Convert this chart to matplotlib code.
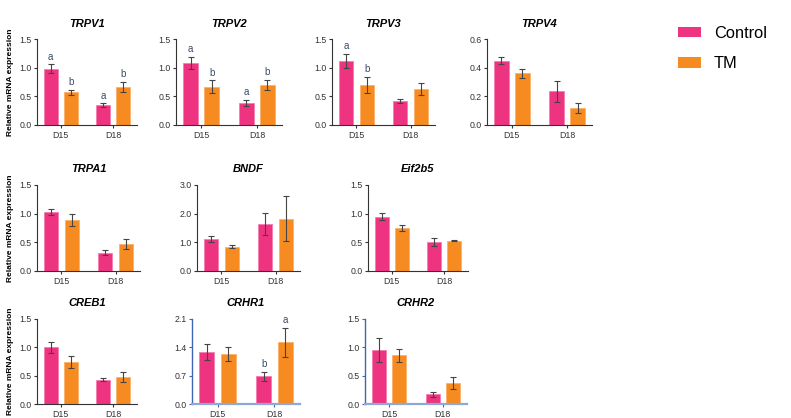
import numpy as np
import matplotlib
matplotlib.use("Agg")
import matplotlib.pyplot as plt
from matplotlib.patches import Patch

plt.rcParams['font.family'] = ['Liberation Sans', 'DejaVu Sans']

days = ["D15", "D18"]
groups = ["Control", "TM"]

genes = ["TRPV1", "TRPV2", "TRPV3", "TRPV4", "TRPA1", "BNDF", "Eif2b5",
         "CREB1", "CRHR1", "CRHR2"]

# mean values, [D15, D18]
control_mean = {
    "TRPV1": [0.98, 0.35], "TRPV2": [1.08, 0.39], "TRPV3": [1.12, 0.42],
    "TRPV4": [0.45, 0.235], "TRPA1": [1.03, 0.32], "BNDF": [1.12, 1.65],
    "Eif2b5": [0.95, 0.51], "CREB1": [1.0, 0.43], "CRHR1": [1.28, 0.69],
    "CRHR2": [0.95, 0.17],
}
control_err = {
    "TRPV1": [0.08, 0.03], "TRPV2": [0.11, 0.05], "TRPV3": [0.12, 0.04],
    "TRPV4": [0.025, 0.075], "TRPA1": [0.06, 0.04], "BNDF": [0.11, 0.39],
    "Eif2b5": [0.06, 0.07], "CREB1": [0.1, 0.03], "CRHR1": [0.2, 0.11],
    "CRHR2": [0.21, 0.04],
}
tm_mean = {
    "TRPV1": [0.57, 0.66], "TRPV2": [0.67, 0.70], "TRPV3": [0.70, 0.63],
    "TRPV4": [0.36, 0.12], "TRPA1": [0.89, 0.47], "BNDF": [0.85, 1.83],
    "Eif2b5": [0.75, 0.53], "CREB1": [0.74, 0.47], "CRHR1": [1.24, 1.53],
    "CRHR2": [0.86, 0.37],
}
tm_err = {
    "TRPV1": [0.04, 0.09], "TRPV2": [0.11, 0.09], "TRPV3": [0.14, 0.10],
    "TRPV4": [0.03, 0.035], "TRPA1": [0.11, 0.08], "BNDF": [0.04, 0.77],
    "Eif2b5": [0.06, 0.01], "CREB1": [0.11, 0.09], "CRHR1": [0.18, 0.36],
    "CRHR2": [0.11, 0.11],
}
# significance letters [ctrl D15, tm D15, ctrl D18, tm D18]
letters = {
    "TRPV1": ["a", "b", "a", "b"], "TRPV2": ["a", "b", "a", "b"],
    "TRPV3": ["a", "b", "", ""], "CRHR1": ["", "", "b", "a"],
}
yticks = {
    "TRPV1": [0, 0.5, 1.0, 1.5], "TRPV2": [0, 0.5, 1.0, 1.5],
    "TRPV3": [0, 0.5, 1.0, 1.5], "TRPV4": [0, 0.2, 0.4, 0.6],
    "TRPA1": [0, 0.5, 1.0, 1.5], "BNDF": [0, 1.0, 2.0, 3.0],
    "Eif2b5": [0, 0.5, 1.0, 1.5], "CREB1": [0, 0.5, 1.0, 1.5],
    "CRHR1": [0, 0.7, 1.4, 2.1], "CRHR2": [0, 0.5, 1.0, 1.5],
}

W, H = 791, 418
# panel pixel boxes: left, right, top, bottom
boxes = {
    "TRPV1": (37, 137, 39, 125), "TRPV2": (176, 282, 39, 125),
    "TRPV3": (332, 435, 39, 125), "TRPV4": (487, 592, 39, 125),
    "TRPA1": (37, 140, 185, 271), "BNDF": (197, 300, 185, 271),
    "Eif2b5": (368, 468, 185, 271),
    "CREB1": (37, 137, 319, 404), "CRHR1": (192, 300, 319, 404),
    "CRHR2": (365, 467, 319, 404),
}

pink = "#EE3480"
orange = "#F68B21"

fig = plt.figure(figsize=(W / 100, H / 100), dpi=100)

x = np.arange(len(days))
bw = 0.26
off = 0.19
for g in genes:
    l, r, t, b = boxes[g]
    ax = fig.add_axes([l / W, 1 - b / H, (r - l) / W, (b - t) / H])
    ekw = dict(ecolor="#444444", elinewidth=0.8, capsize=2.5, capthick=0.8)
    ax.bar(x - off, control_mean[g], bw, yerr=control_err[g], color=pink,
           edgecolor="#F57DAF", linewidth=0.6, error_kw=ekw)
    ax.bar(x + off, tm_mean[g], bw, yerr=tm_err[g], color=orange,
           edgecolor="#FBB26A", linewidth=0.6, error_kw=ekw)
    yt = yticks[g]
    ax.set_ylim(0, yt[-1])
    ax.set_xlim(-0.45, 1.45)
    ax.set_yticks(yt)
    ax.set_yticklabels(["%.1f" % v for v in yt])
    ax.set_xticks(x)
    ax.set_xticklabels(days)
    ax.tick_params(labelsize=6.3, length=2.5, width=0.8, colors="#333333", pad=1.5)
    for s in ["top", "right"]:
        ax.spines[s].set_visible(False)
    if g in ("CRHR1", "CRHR2"):
        ax.spines["left"].set_color("#3F66B0")
        ax.spines["bottom"].set_color("#8FA9D6")
        ax.spines["left"].set_linewidth(1.0)
        ax.spines["bottom"].set_linewidth(1.6)
        ax.tick_params(axis="y", color="#3F66B0")
        ax.tick_params(axis="x", color="#3F66B0")
    else:
        ax.spines["left"].set_color("#333333")
        ax.spines["bottom"].set_color("#333333")
    ax.set_title(g, fontsize=8, fontweight="bold", style="italic", pad=9)
    if g in letters:
        ymax = yt[-1]
        tops = [(0 - off, control_mean[g][0] + control_err[g][0]),
                (0 + off, tm_mean[g][0] + tm_err[g][0]),
                (1 - off, control_mean[g][1] + control_err[g][1]),
                (1 + off, tm_mean[g][1] + tm_err[g][1])]
        for (px, py), lt in zip(tops, letters[g]):
            if lt:
                ax.text(px, py + ymax * 0.03, lt, ha="center", va="bottom",
                        fontsize=7, color="#3A4A6A")
    if l < 50:
        ax.set_ylabel("Relative mRNA expression", fontsize=6, fontweight="bold",
                      labelpad=4)

handles = [Patch(facecolor=pink, label="Control"),
           Patch(facecolor=orange, label="TM")]
fig.legend(handles=handles, loc="upper left", bbox_to_anchor=(663 / W, 1 - 11 / H),
           frameon=False, fontsize=11.8, handlelength=1.4, handleheight=0.65,
           labelspacing=0.95, handletextpad=0.8)

fig.savefig("out.png", dpi=100)
